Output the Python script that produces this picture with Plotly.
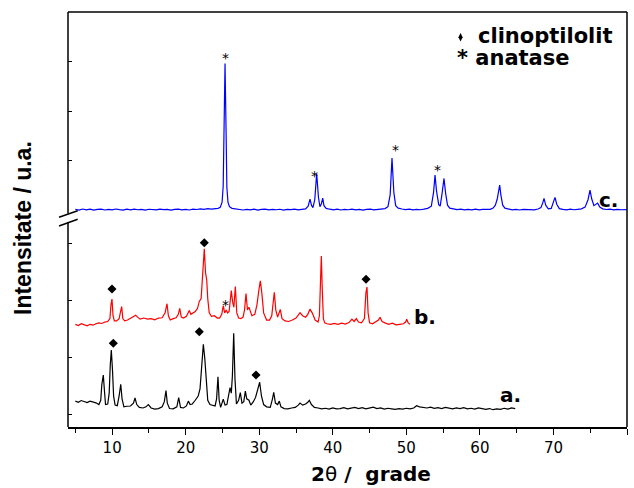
import plotly.graph_objects as go

# ---- XRD patterns (2theta in degrees, intensity in counts) ----
# a. clinoptilolite
TWO_THETA_A = [
    5.0, 5.4, 5.8, 6.2, 6.6, 7.0, 7.4, 7.8, 8.2, 8.45, 8.6, 8.8, 8.95, 9.1, 9.4, 9.6, 9.75, 9.89,
    10.05, 10.2, 10.4, 10.7, 10.95, 11.17, 11.35, 11.6, 12.0, 12.5, 12.9, 13.11, 13.35, 13.7,
    14.2, 14.6, 14.92, 15.3, 15.8, 16.3, 16.8, 17.1, 17.32, 17.5, 17.8, 18.3, 18.8, 19.05,
    19.3, 19.7, 20.1, 20.36, 20.6, 20.9, 21.3, 21.7, 21.95, 22.2, 22.4, 22.6, 22.8, 23.0,
    23.3, 23.6, 24.0, 24.2, 24.39, 24.55, 24.75, 25.11, 25.35, 25.6, 25.85, 26.03, 26.2,
    26.35, 26.53, 26.7, 26.9, 27.2, 27.43, 27.65, 27.9, 28.11, 28.3, 28.6, 28.85, 29.2,
    29.5, 29.8, 30.06, 30.3, 30.6, 31.0, 31.5, 31.8, 31.97, 32.2, 32.5, 32.73, 32.95,
    33.4, 33.9, 34.4, 34.9, 35.3, 35.54, 35.9, 36.3, 36.6, 36.81, 37.1, 37.5, 38.0, 38.5,
    39.0, 39.5, 40.0, 40.5, 41.0, 41.5, 42.0, 42.5, 43.0, 43.5, 44.0, 44.5, 45.0, 45.5,
    46.0, 46.5, 47.0, 47.5, 48.0, 48.5, 49.0, 49.5, 50.0, 50.5, 51.0, 51.4, 51.8, 52.3,
    52.8, 53.3, 53.8, 54.3, 54.8, 55.3, 55.8, 56.3, 56.8, 57.3, 57.8, 58.3, 58.8, 59.3,
    59.8, 60.3, 60.8, 61.3, 61.8, 62.3, 62.8, 63.3, 63.8, 64.3, 64.8,
]
COUNTS_A = [
    42, 38, 44, 40, 37, 42, 39, 36, 30, 45, 100, 133, 80, 30, 32, 70, 170, 221,
    150, 60, 28, 26, 60, 101, 50, 22, 24, 25, 35, 53, 30, 20,
    18, 22, 30, 18, 14, 16, 22, 40, 79, 35, 16, 15, 22, 54,
    20, 18, 25, 42, 30, 32, 45, 60, 85, 170, 241, 190, 95, 45,
    30, 28, 25, 50, 127, 45, 20, 49, 28, 30, 60, 89, 70,
    130, 279, 120, 32, 45, 72, 35, 40, 77, 50, 45, 28, 40,
    55, 80, 108, 60, 30, 22, 20, 50, 73, 35, 30, 42, 22,
    16, 15, 18, 20, 28, 35, 28, 32, 38, 45, 30, 20, 18, 15,
    17, 14, 18, 15, 16, 19, 15, 18, 20, 16, 19, 15, 18, 21,
    16, 18, 14, 17, 15, 13, 16, 14, 17, 15, 18, 26, 22, 20,
    18, 21, 17, 19, 16, 20, 17, 15, 18, 16, 19, 15, 17, 14,
    18, 15, 13, 16, 12, 15, 13, 17, 14, 18, 16,
]

# b. modified clinoptilolite with a little anatase
TWO_THETA_B = [
    5.0, 5.4, 5.8, 6.2, 6.6, 7.0, 7.4, 7.8, 8.2, 8.6, 9.0, 9.4, 9.7, 9.85, 9.98, 10.12,
    10.3, 10.6, 10.95, 11.15, 11.3, 11.45, 11.7, 12.1, 12.6, 13.0, 13.2, 13.45, 13.8,
    14.3, 14.8, 15.3, 15.8, 16.3, 16.8, 17.2, 17.46, 17.65, 17.9, 18.3, 18.7, 19.0,
    19.19, 19.4, 19.7, 20.1, 20.49, 20.7, 21.0, 21.3, 21.6, 21.85, 22.1, 22.3, 22.53,
    22.7, 22.86, 23.0, 23.2, 23.5, 23.9, 24.3, 24.6, 24.9, 25.11, 25.3, 25.5, 25.7,
    25.9, 26.05, 26.2, 26.4, 26.55, 26.75, 26.95, 27.2, 27.5, 27.8, 28.0, 28.2, 28.4,
    28.6, 28.8, 29.0, 29.4, 29.7, 29.95, 30.15, 30.35, 30.6, 31.0, 31.4, 31.7, 31.9,
    32.05, 32.25, 32.5, 32.86, 33.1, 33.5, 34.0, 34.5, 35.0, 35.54, 35.9, 36.3, 36.6,
    36.9, 37.2, 37.6, 38.0, 38.18, 38.32, 38.44, 38.56, 38.72, 38.9, 39.2, 39.7, 40.2,
    40.7, 41.2, 41.7, 42.2, 42.6, 42.9, 43.2, 43.5, 43.9, 44.3, 44.5, 44.65, 44.8,
    45.0, 45.4, 45.8, 46.2, 46.42, 46.7, 47.1, 47.6, 48.1, 48.6, 49.1, 49.6, 49.9,
    50.05, 50.25, 50.5,
]
COUNTS_B = [
    40, 36, 42, 38, 35, 40, 37, 42, 45, 43, 48, 50, 60, 110, 128, 70,
    52, 52, 60, 85, 102, 60, 52, 55, 62, 70, 72, 65, 58,
    62, 58, 60, 56, 62, 63, 80, 112, 70, 55, 60, 63, 75,
    96, 65, 62, 68, 88, 75, 80, 85, 95, 120, 130, 200, 304,
    220, 195, 130, 80, 68, 70, 62, 62, 75, 105, 80, 90, 80,
    85, 120, 158, 115, 100, 172, 80, 62, 60, 65, 90, 148, 90,
    100, 85, 70, 75, 110, 160, 192, 150, 80, 55, 55, 70, 130,
    152, 90, 65, 92, 60, 52, 50, 55, 62, 81, 70, 65, 75,
    93, 80, 55, 48, 70, 170, 279, 170, 60, 45, 42, 40, 43,
    40, 44, 41, 46, 58, 50, 60, 48, 45, 60, 150, 170, 80,
    45, 42, 48, 55, 65, 50, 45, 40, 44, 38, 40, 42, 48,
    58, 45, 40,
]

# c. anatase-rich sample
TWO_THETA_C = [
    5.0, 5.5, 6.0, 6.5, 7.0, 7.5, 8.0, 8.5, 9.0, 9.5, 10.0, 10.5, 11.0, 11.5, 12.0, 12.5,
    13.0, 13.5, 14.0, 14.5, 15.0, 15.5, 16.0, 16.5, 17.0, 17.5, 18.0, 18.5, 19.0, 19.5,
    20.0, 20.5, 21.0, 21.5, 22.0, 22.5, 23.0, 23.5, 24.0, 24.4, 24.7, 24.95, 25.1, 25.2,
    25.35, 25.5, 25.6, 25.75, 25.95, 26.3, 26.8, 27.3, 27.8, 28.3, 28.8, 29.3, 29.8,
    30.3, 30.8, 31.3, 31.8, 32.3, 32.8, 33.3, 33.8, 34.3, 34.8, 35.3, 35.8, 36.3, 36.65,
    36.9, 37.1, 37.3, 37.55, 37.81, 38.05, 38.25, 38.45, 38.63, 38.8, 39.1, 39.6, 40.1,
    40.6, 41.1, 41.6, 42.1, 42.6, 43.1, 43.6, 44.1, 44.6, 45.1, 45.6, 46.1, 46.6, 47.1,
    47.5, 47.8, 48.05, 48.3, 48.55, 48.9, 49.4, 49.9, 50.4, 50.9, 51.4, 51.9, 52.4, 52.9,
    53.4, 53.7, 53.9, 54.1, 54.4, 54.6, 54.85, 55.12, 55.35, 55.6, 55.9, 56.4, 56.9,
    57.4, 57.9, 58.4, 58.9, 59.4, 59.9, 60.4, 60.9, 61.4, 61.8, 62.1, 62.35, 62.55,
    62.69, 62.85, 63.1, 63.4, 63.9, 64.4, 64.9, 65.4, 65.9, 66.4, 66.9, 67.4, 67.9,
    68.3, 68.55, 68.72, 68.95, 69.3, 69.7, 70.0, 70.21, 70.45, 70.8, 71.3, 71.8, 72.3,
    72.8, 73.3, 73.8, 74.3, 74.7, 74.97, 75.2, 75.5, 75.8, 76.01, 76.3, 76.7, 77.2,
    77.7, 78.2, 78.7, 79.2, 79.7, 80.0,
]
COUNTS_C = [
    5, -10, 12, -5, 8, -12, 4, 10, -8, 6, -4, 12, 0, -10, 8, -6,
    10, -3, 5, -9, 7, 2, -7, 9, -2, 6, -10, 4, 11, -5,
    3, -8, 10, 2, 14, 6, 18, 8, 15, 25, 45, 150, 480, 1500,
    2965, 1500, 450, 150, 60, 25, 12, 2, -8, 6, -4, 8, -10,
    3, 9, -6, 5, -3, 7, -9, 4, 0, 8, -5, 6, 15, 70,
    213, 90, 40, 200, 734, 250, 60, 120, 233, 80, 25, 8, -5,
    10, -8, 4, -3, 9, -6, 5, -10, 3, 8, -4, 6, 12, 20,
    60, 300, 1044, 350, 80, 30, 12, 0, 8, -6, 5, -3, 10, 25,
    70, 350, 699, 380, 100, 70, 320, 632, 320, 90, 30, 12, 0,
    8, -6, 4, -4, 8, -7, 3, 10, 5, 30, 90, 210, 380,
    497, 300, 90, 30, 8, -5, 6, -8, 4, 0, 7, -5, 12,
    40, 140, 227, 90, 15, 25, 140, 247, 110, 20, 5, -6, 8,
    -3, 6, 15, 50, 200, 395, 220, 80, 110, 132, 50, 15, 2,
    8, -6, 5, -3, 6, 0,
]

# vertical stacking of the patterns
OFFSET_A = 206.5
OFFSET_B = 477.0
OFFSET_C = 0.0

# phase markers (2theta, stacked intensity)
CLINO_A_X = [10.16, 21.85, 29.56]
CLINO_A_Y = [450.7, 491.3, 339.9]
CLINO_B_X = [9.98, 22.53, 44.52]
CLINO_B_Y = [640.6, 802.4, 674.5]
ANATASE_B_X = [25.39]
ANATASE_B_Y = [596.2]
ANATASE_C_X = [25.44, 37.58, 48.56, 54.17]
ANATASE_C_Y = [3136, 748, 1276, 864]

X_MAJOR_TICKS = [10, 20, 30, 40, 50, 60, 70, 80]
Y_LOWER_TICKS = [200, 400, 600, 800]
Y_UPPER_TICKS = [1000, 2000, 3000]

BLACK = "#000000"
RED = "#ff0000"
BLUE = "#0000ff"
FONT = "DejaVu Sans"

fig = go.Figure()

fig.add_trace(go.Scatter(
    x=TWO_THETA_A, y=[v + OFFSET_A for v in COUNTS_A], mode="lines",
    line=dict(color=BLACK, width=1.2), yaxis="y", hoverinfo="skip"))
fig.add_trace(go.Scatter(
    x=TWO_THETA_B, y=[v + OFFSET_B for v in COUNTS_B], mode="lines",
    line=dict(color=RED, width=1.2), yaxis="y", hoverinfo="skip"))
fig.add_trace(go.Scatter(
    x=TWO_THETA_C, y=[v + OFFSET_C for v in COUNTS_C], mode="lines",
    line=dict(color=BLUE, width=1.2), yaxis="y2", hoverinfo="skip"))

# clinoptilolite diamonds
fig.add_trace(go.Scatter(
    x=CLINO_A_X + CLINO_B_X, y=CLINO_A_Y + CLINO_B_Y, mode="markers",
    marker=dict(symbol="diamond", size=7, color=BLACK), yaxis="y", hoverinfo="skip"))

# anatase asterisks
for x, y in zip(ANATASE_B_X, ANATASE_B_Y):
    fig.add_annotation(x=x, y=y, xref="x", yref="y", text="*", showarrow=False,
                       font=dict(family=FONT, size=14, color=BLACK), yshift=-3)
for x, y in zip(ANATASE_C_X, ANATASE_C_Y):
    fig.add_annotation(x=x, y=y, xref="x", yref="y2", text="*", showarrow=False,
                       font=dict(family=FONT, size=14, color=BLACK), yshift=-3)

# sample labels
label_font = dict(family=FONT, size=20, color=BLACK, weight="bold")
fig.add_annotation(x=62.46, y=268.2, xref="x", yref="y", text="a.", showarrow=False,
                   xanchor="left", yanchor="middle", font=label_font)
fig.add_annotation(x=50.77, y=542.7, xref="x", yref="y", text="b.", showarrow=False,
                   xanchor="left", yanchor="middle", font=label_font)
fig.add_annotation(x=75.92, y=194.7, xref="x", yref="y2", text="c.", showarrow=False,
                   xanchor="left", yanchor="middle", font=label_font)

# key
legend_font = dict(family=FONT, size=21, color=BLACK, weight="bold")
fig.add_trace(go.Scatter(
    x=[57.37], y=[3495], mode="markers", yaxis="y2", hoverinfo="skip",
    marker=dict(symbol="diamond-tall", size=6, color=BLACK)))
fig.add_annotation(x=0.7299, y=0.9422, xref="paper", yref="paper", text="clinoptilolit",
                   showarrow=False, xanchor="left", yanchor="middle", font=legend_font)
fig.add_annotation(x=0.6925, y=0.8880, xref="paper", yref="paper", text="* anatase",
                   showarrow=False, xanchor="left", yanchor="middle", font=legend_font)

# axis titles
fig.add_annotation(x=0.542, y=-0.1135, xref="paper", yref="paper",
                   text="<b>2</b>\u03b8<b> /\u00a0\u00a0grade</b>", showarrow=False,
                   xanchor="center", yanchor="middle",
                   font=dict(family=FONT, size=20, color=BLACK))
fig.add_annotation(x=-0.0805, y=0.4795, xref="paper", yref="paper",
                   text="Intensitate / u.a.", textangle=-90, showarrow=False,
                   xanchor="center", yanchor="middle",
                   font=dict(family="Liberation Sans", size=23, color=BLACK, weight="bold"))

# frame with the axis break on the left side
frame = dict(color=BLACK, width=1.5)
y_gap_lo = (427 - 222) / 415
y_gap_hi = (427 - 213.5) / 415
shapes = [
    dict(type="line", xref="paper", yref="paper", x0=0, x1=1, y0=1, y1=1, line=frame),
    dict(type="line", xref="paper", yref="paper", x0=1, x1=1, y0=0, y1=1, line=frame),
    dict(type="line", xref="paper", yref="paper", x0=0, x1=0, y0=0, y1=y_gap_lo, line=frame),
    dict(type="line", xref="paper", yref="paper", x0=0, x1=0, y0=y_gap_hi, y1=1, line=frame),
    dict(type="line", xref="paper", yref="paper", x0=-0.0161, x1=0.01735,
         y0=0.5053, y1=0.5212, line=frame),
    dict(type="line", xref="paper", yref="paper", x0=-0.0161, x1=0.01735,
         y0=0.4843, y1=0.5005, line=frame),
]

split = 210 / 415
fig.update_layout(
    width=634, height=488,
    margin=dict(l=68, r=7, t=12, b=61),
    paper_bgcolor="white", plot_bgcolor="white",
    showlegend=False,
    shapes=shapes,
    xaxis=dict(
        range=[4, 80], tickvals=X_MAJOR_TICKS, ticks="outside", ticklen=6, tickwidth=1.3,
        tickcolor=BLACK, showline=True, linecolor=BLACK, linewidth=1.5,
        showgrid=False, zeroline=False,
        minor=dict(tickvals=[5, 15, 25, 35, 45, 55, 65, 75], ticks="outside",
                   ticklen=4, tickwidth=1.3, tickcolor=BLACK, showgrid=False),
        tickfont=dict(family=FONT, size=15, color=BLACK),
        anchor="y",
    ),
    yaxis=dict(
        domain=[0, split], range=[158.0, 892.3], tickvals=Y_LOWER_TICKS,
        ticks="inside", ticklen=4, tickwidth=1.3, tickcolor=BLACK,
        showticklabels=False, showline=False, showgrid=False, zeroline=False,
    ),
    yaxis2=dict(
        domain=[split, 1], range=[-150, 4008], tickvals=Y_UPPER_TICKS,
        ticks="inside", ticklen=4, tickwidth=1.3, tickcolor=BLACK,
        showticklabels=False, showline=False, showgrid=False, zeroline=False,
        anchor="x",
    ),
)

fig.write_html("out.html")
